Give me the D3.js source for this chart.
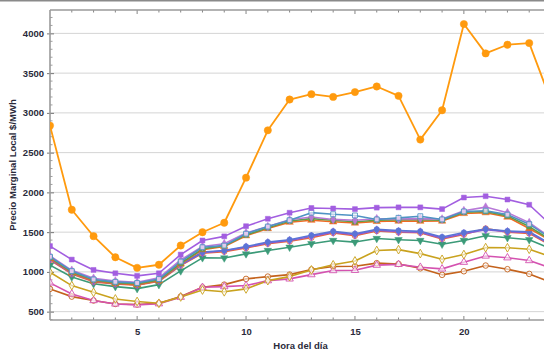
<!DOCTYPE html>
<html>
<head>
<meta charset="utf-8">
<script src="https://cdn.jsdelivr.net/npm/d3@7/dist/d3.min.js"></script>
<style>
  html, body { margin: 0; padding: 0; background: #fff; }
  svg { display: block; }
  text { font-family: "Liberation Sans", Arial, sans-serif; }
</style>
</head>
<body>
<svg id="chart" width="544" height="354"></svg>
<script>
// Hours of the day
const hours = d3.range(1, 25);

// Local marginal price by node, $/MWh, one value per hour
const nodeA = [2840,1782,1449,1184,1051,1090,1332,1499,1618,2185,2781,3168,3235,3201,3262,3332,3214,2664,3033,4117,3748,3857,3878,3150];
const nodeB = [1325,1155,1025,983,950,983,1218,1395,1447,1575,1668,1744,1804,1798,1790,1808,1812,1812,1790,1935,1952,1910,1845,1590];
const nodeC = [1190,1010,905,875,860,910,1130,1310,1330,1480,1570,1650,1745,1725,1710,1660,1680,1700,1660,1760,1770,1720,1600,1420];
const nodeD = [1200,1020,920,885,870,925,1150,1320,1355,1490,1570,1655,1690,1660,1650,1668,1665,1670,1665,1770,1815,1745,1620,1430];
const nodeE = [1180,1000,900,865,850,900,1110,1290,1330,1465,1555,1640,1670,1650,1630,1650,1655,1655,1650,1750,1760,1705,1570,1400];
const nodeF = [1170,990,890,855,840,890,1100,1280,1320,1455,1545,1625,1650,1630,1615,1635,1640,1638,1640,1735,1745,1690,1545,1390];
const nodeG = [1175,1000,895,862,845,895,1100,1250,1270,1320,1375,1405,1460,1510,1480,1535,1520,1510,1440,1495,1540,1515,1505,1350];
const nodeH = [1160,985,885,855,840,890,1090,1240,1265,1310,1365,1395,1445,1500,1468,1525,1505,1500,1425,1480,1530,1505,1495,1340];
const nodeI = [1150,975,875,848,832,882,1080,1235,1255,1300,1355,1385,1430,1490,1455,1515,1498,1492,1415,1470,1545,1500,1485,1330];
const nodeJ = [1085,935,850,815,790,840,1012,1177,1175,1227,1269,1310,1355,1395,1375,1420,1405,1395,1348,1395,1455,1430,1405,1290];
const nodeK = [995,828,743,660,628,605,685,772,750,786,890,941,1025,1089,1138,1269,1280,1230,1158,1218,1305,1304,1285,1190];
const nodeL = [862,723,640,597,585,600,682,806,815,828,890,912,966,1017,1020,1085,1095,1059,1038,1122,1200,1178,1143,1050];
const nodeM = [786,689,640,597,590,605,690,806,840,912,941,966,1030,1067,1071,1110,1100,1045,963,1008,1080,1034,975,870];

// Axis ticks
const yTicks = [500, 1000, 1500, 2000, 2500, 3000, 3500, 4000];
const xTicks = [5, 10, 15, 20];

// Series styling: colour, marker shape, open/filled
const series = [
  { values: nodeM, color: "#c4621c", shape: "circle",   open: true  },
  { values: nodeL, color: "#d452b0", shape: "triangle", open: true  },
  { values: nodeK, color: "#c9a21e", shape: "diamond",  open: true  },
  { values: nodeJ, color: "#3b9a78", shape: "down",     open: false },
  { values: nodeI, color: "#e8653a", shape: "circle",   open: true  },
  { values: nodeH, color: "#8a5cd8", shape: "diamond",  open: false },
  { values: nodeG, color: "#5a74d6", shape: "circle",   open: false },
  { values: nodeF, color: "#f06a22", shape: "triangle", open: false },
  { values: nodeE, color: "#5f9e4a", shape: "square",   open: false },
  { values: nodeD, color: "#b879d8", shape: "diamond",  open: false },
  { values: nodeC, color: "#4f93c4", shape: "square",   open: true  },
  { values: nodeB, color: "#a25ee0", shape: "square",   open: false },
  { values: nodeA, color: "#ff9a0e", shape: "circle",   open: false, big: true }
];

const svg = d3.select("#chart");
const W = 544;
const padL = 50, padT = 10, padB = 320, padR = 551;

const x = d3.scaleLinear().domain([1, 24]).range([padL, padR]);
const y = d3.scaleLinear().domain([395, 4294]).range([padB, padT]);

// outer border line at the top edge
svg.append("line").attr("x1", 0).attr("x2", W).attr("y1", 0.75).attr("y2", 0.75)
  .attr("stroke", "#8a8a8a").attr("stroke-width", 1.5);

// horizontal gridlines
svg.append("g").selectAll("line").data(yTicks).join("line")
  .attr("x1", padL).attr("x2", padR)
  .attr("y1", d => y(d)).attr("y2", d => y(d))
  .attr("stroke", "#d4d4d4").attr("stroke-width", 1);

// frame: left axis with ticks
const yAxis = d3.axisLeft(y).tickValues(yTicks).tickSize(3).tickPadding(3).tickFormat(d3.format("d"));
const gy = svg.append("g").attr("transform", `translate(${padL},0)`).call(yAxis);
gy.select(".domain").remove();
gy.selectAll(".tick line").attr("stroke", "#777").attr("x2", -3).attr("x1", 4);
gy.selectAll("text").attr("font-size", "9.5px").attr("font-weight", "bold").attr("fill", "#2a2a3a");
// minor y ticks
svg.append("g").selectAll("line").data(d3.range(400, 4300, 100).filter(v => v % 500 !== 0)).join("line")
  .attr("x1", padL).attr("x2", padL + 2.5)
  .attr("y1", d => y(d)).attr("y2", d => y(d))
  .attr("stroke", "#888").attr("stroke-width", 0.8);

// bottom axis
const xAxis = d3.axisBottom(x).tickValues(xTicks).tickSize(0).tickPadding(8).tickFormat(d3.format("d"));
const gx = svg.append("g").attr("transform", `translate(0,${padB})`).call(xAxis);
gx.select(".domain").remove();
gx.selectAll("text").attr("font-size", "9.5px").attr("font-weight", "bold").attr("fill", "#2a2a3a");

// hour ticks on bottom and top frame edges
const hourTicks = svg.append("g");
hourTicks.selectAll("line.b").data(hours.filter(h => h > 1)).join("line").attr("class", "b")
  .attr("x1", d => x(d)).attr("x2", d => x(d))
  .attr("y1", padB).attr("y2", d => padB - (d % 5 === 0 ? 4 : 2.5))
  .attr("stroke", "#777").attr("stroke-width", 0.9);
hourTicks.selectAll("line.t").data(hours.filter(h => h > 1)).join("line").attr("class", "t")
  .attr("x1", d => x(d)).attr("x2", d => x(d))
  .attr("y1", padT).attr("y2", d => padT + (d % 5 === 0 ? 4 : 2.5))
  .attr("stroke", "#777").attr("stroke-width", 0.9);

// frame lines
svg.append("line").attr("x1", padL).attr("x2", padL).attr("y1", padT).attr("y2", padB)
  .attr("stroke", "#9a9a9a").attr("stroke-width", 1.6);
svg.append("line").attr("x1", padL).attr("x2", padR).attr("y1", padB).attr("y2", padB)
  .attr("stroke", "#9a9a9a").attr("stroke-width", 1.6);
svg.append("line").attr("x1", padL).attr("x2", padR).attr("y1", padT).attr("y2", padT)
  .attr("stroke", "#9a9a9a").attr("stroke-width", 1.6);

// clip for lines inside the plot
svg.append("clipPath").attr("id", "plotclip").append("rect")
  .attr("x", padL).attr("y", padT).attr("width", padR - padL).attr("height", padB - padT);

const line = d3.line().x((d, i) => x(hours[i])).y(d => y(d));
const shapes = {
  circle: d3.symbolCircle, square: d3.symbolSquare, diamond: d3.symbolDiamond,
  triangle: d3.symbolTriangle, down: d3.symbolTriangle
};

const plot = svg.append("g").attr("clip-path", "url(#plotclip)");
series.forEach(s => {
  plot.append("path").datum(s.values)
    .attr("d", line).attr("fill", "none")
    .attr("stroke", s.color).attr("stroke-width", s.big ? 1.8 : 1.6)
    .attr("stroke-linejoin", "round");
});
series.forEach(s => {
  const size = s.big ? 42 : (s.shape === "diamond" ? 22 : 24);
  const sym = d3.symbol().type(shapes[s.shape]).size(size);
  plot.append("g").selectAll("path").data(s.values).join("path")
    .attr("d", sym)
    .attr("transform", (d, i) => `translate(${x(hours[i])},${y(d)})` + (s.shape === "down" ? " rotate(180)" : ""))
    .attr("fill", s.open ? "#fff" : s.color)
    .attr("fill-opacity", s.open ? 0.6 : 1)
    .attr("stroke", s.color).attr("stroke-width", s.open ? 0.9 : 0.5);
});

// axis titles
svg.append("text").attr("x", (padL + padR) / 2).attr("y", 349)
  .attr("text-anchor", "middle").attr("font-size", "9.5px").attr("font-weight", "bold")
  .attr("fill", "#2a2a3a").text("Hora del día");
svg.append("text").attr("transform", `translate(16,${(padT + padB) / 2}) rotate(-90)`)
  .attr("text-anchor", "middle").attr("font-size", "9.5px").attr("font-weight", "bold")
  .attr("fill", "#2a2a3a").text("Precio Marginal Local $/MWh");
</script>
</body>
</html>
